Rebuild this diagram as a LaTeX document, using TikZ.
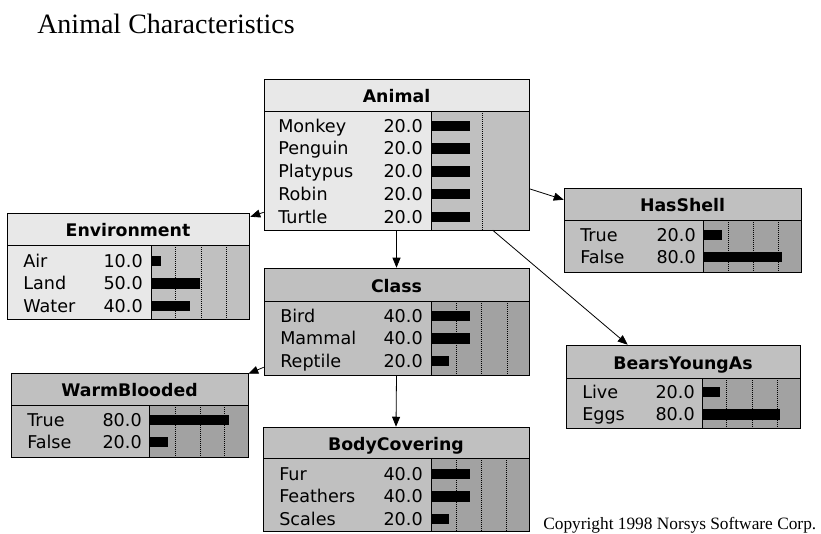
\documentclass[tikz,border=0pt]{standalone}
\usepackage{fontspec}
\setmainfont{Liberation Serif}
\newfontfamily\netfont{DejaVu Sans}
\usetikzlibrary{arrows.meta,calc,fit}
\definecolor{lightfill}{HTML}{E8E8E8}
\definecolor{lightbar}{HTML}{C0C0C0}
\definecolor{darkfill}{HTML}{C0C0C0}
\definecolor{darkbar}{HTML}{A2A2A2}
\tikzset{
  boxline/.style={draw=black, line width=0.75pt},
  dotline/.style={draw=black, line width=0.6pt, dash pattern=on 0.75pt off 0.75pt},
  lbl/.style={inner sep=0pt, font=\netfont\fontsize{13.2pt}{15pt}\selectfont},
  ttl/.style={inner sep=0pt, font=\netfont\bfseries\fontsize{13pt}{15pt}\selectfont},
  link/.style={draw=black, line width=0.6pt, -{Triangle[length=7.5pt,width=6pt]}},
  barfill/.style={fill=black},
}
% #1 name, #2 x1, #3 y1, #4 x2, #5 y2, #6 ysep, #7 xbar, #8 kind, #9 title
\newcommand\bnnode[9]{%
  \fill[#8fill] (#2,#3) rectangle (#4,#5);
  \fill[#8bar] (#7,#6) rectangle (#4,#5);
  \node[fit={(#2,#3)(#4,#5)}, inner sep=0pt] (#1) {};
  \node[ttl, anchor=base] (#1-title) at ({(#2+#4)/2},{(#3+#6)/2+7.5}) {#9};
}
\newcommand\bnframe[6]{% x1 y1 x2 y2 ysep xbar
  \draw[boxline] (#1,#2) rectangle (#3,#4);
  \draw[boxline] (#1,#5) -- (#3,#5);
  \draw[boxline] (#6,#5) -- (#6,#4);
}
% #1 xlabel, #2 xnum, #3 xbar, #4 baseline, #5 label, #6 value, #7 bar length
\newcommand\bnrow[7]{%
  \node[lbl, anchor=base west] at (#1,#4) {#5};
  \node[lbl, anchor=base east] at (#2,#4) {#6};
  \fill[barfill] ({#3},{#4-11.5}) rectangle ++(#7,10.5);
}
\newcommand\bndots[3]{% ysep y2 list
  \foreach \xx in {#3} {\draw[dotline] (\xx,#1) -- (\xx,#2);}
}
\begin{document}
\begin{tikzpicture}[x=0.75pt,y=-0.75pt]
\useasboundingbox (0,0) rectangle (821,533);

\node[anchor=base west, inner sep=0pt, font=\fontsize{21pt}{25pt}\selectfont] (title) at (37,33) {Animal Characteristics};
\node[anchor=base west, inner sep=0pt, font=\fontsize{13pt}{15pt}\selectfont] (copy) at (543,529) {Copyright 1998 Norsys Software Corp.};

% Animal
\bnnode{animal}{264}{79}{529}{230}{111}{431}{light}{Animal}
\bndots{111}{230}{482}
\bnrow{278}{423}{431}{132}{Monkey}{20.0}{39}
\bnrow{278}{423}{431}{154.75}{Penguin}{20.0}{39}
\bnrow{278}{423}{431}{177.5}{Platypus}{20.0}{39}
\bnrow{278}{423}{431}{200.25}{Robin}{20.0}{39}
\bnrow{278}{423}{431}{223}{Turtle}{20.0}{39}
\bnframe{264}{79}{529}{230}{111}{431}

% Environment
\bnnode{env}{7}{213}{249}{319}{245}{151}{light}{Environment}
\bndots{245}{319}{175,201,226}
\bnrow{23}{143}{151}{267}{Air}{10.0}{10}
\bnrow{23}{143}{151}{289.5}{Land}{50.0}{49}
\bnrow{23}{143}{151}{312}{Water}{40.0}{39}
\bnframe{7}{213}{249}{319}{245}{151}

% HasShell
\bnnode{hasshell}{564}{188}{801}{272}{220}{703}{dark}{HasShell}
\bndots{220}{272}{728,753,778}
\bnrow{580}{696}{703}{241}{True}{20.0}{19}
\bnrow{580}{696}{703}{263}{False}{80.0}{79}
\bnframe{564}{188}{801}{272}{220}{703}

% Class
\bnnode{class}{264}{268}{529}{375}{301}{431}{dark}{Class}
\bndots{301}{375}{456,481,507}
\bnrow{280}{423}{431}{322}{Bird}{40.0}{39}
\bnrow{280}{423}{431}{344.5}{Mammal}{40.0}{39}
\bnrow{280}{423}{431}{367}{Reptile}{20.0}{18}
\bnframe{264}{268}{529}{375}{301}{431}

% WarmBlooded
\bnnode{warm}{11}{373}{248}{457}{405}{149}{dark}{WarmBlooded}
\bndots{405}{457}{175,200,224}
\bnrow{27}{142}{149}{426}{True}{80.0}{80}
\bnrow{27}{142}{149}{448}{False}{20.0}{19}
\bnframe{11}{373}{248}{457}{405}{149}

% BearsYoungAs
\bnnode{bears}{566}{345}{800}{428}{378}{702}{dark}{BearsYoungAs}
\bndots{378}{428}{726,752,777}
\bnrow{582}{695}{702}{398}{Live}{20.0}{18}
\bnrow{582}{695}{702}{420.5}{Eggs}{80.0}{78}
\bnframe{566}{345}{800}{428}{378}{702}

% BodyCovering
\bnnode{body}{263}{427}{529}{531}{458}{431}{dark}{BodyCovering}
\bndots{458}{531}{456,481,506}
\bnrow{279}{423}{431}{480}{Fur}{40.0}{39}
\bnrow{279}{423}{431}{502.5}{Feathers}{40.0}{39}
\bnrow{279}{423}{431}{525}{Scales}{20.0}{18}
\bnframe{263}{427}{529}{531}{458}{431}

% connectors
\draw[link] ($(animal.south west)+(0,-18)$) -- ($(env.north east)+(1,4)$);
\draw[link] ($(animal.north east)+(0,110)$) -- ($(hasshell.north west)+(0,12)$);
\draw[link] ($(animal.south west)+(229,0)$) -- ($(bears.north west)+(62,0)$);
\draw[link] (animal.south) -- (class.north);
\draw[link] ($(class.south west)+(0,-8)$) -- ($(warm.north east)+(0,1)$);
\draw[link] (class.south) -- (body.north);
\end{tikzpicture}
\end{document}
